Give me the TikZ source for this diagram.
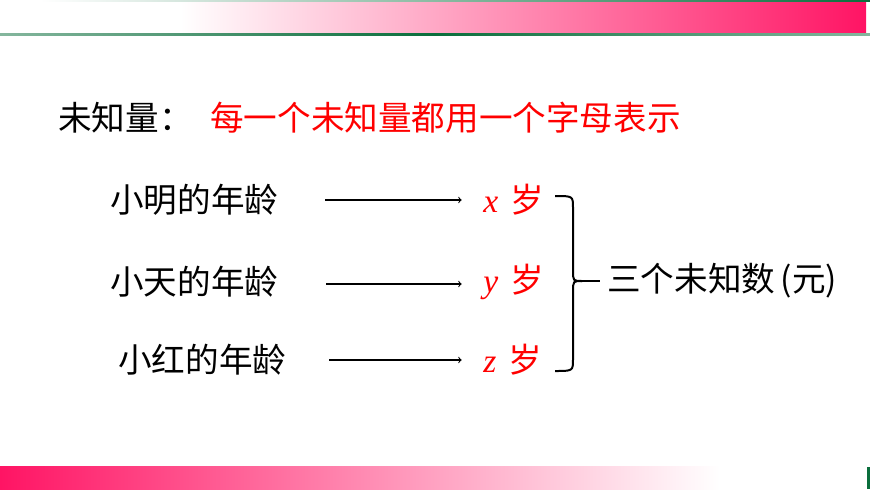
\documentclass[tikz,border=0pt]{standalone}
\usepackage{fontspec}
\newfontfamily\cjk{Noto Sans CJK SC}
\newfontfamily\lat{Liberation Serif}
\usetikzlibrary{positioning}
\definecolor{barpink}{RGB}{255,20,100}
\definecolor{bargreen}{RGB}{10,110,60}
\definecolor{keyred}{RGB}{255,0,0}

\begin{document}
\begin{tikzpicture}[x=0.75pt, y=-0.75pt,
    txt/.style={font=\cjk\fontsize{25.2}{30}\selectfont, inner sep=0pt, anchor=west},
    var/.style={txt, text=keyred},
    conn/.style={->, line width=0.8pt, shorten >=16pt}]
    \useasboundingbox (0,0) rectangle (870,489);

    % franjas de arriba y de abajo
    \shade[left color=white, right color=barpink] (180,2) rectangle (866,33);
    \shade[left color=white, right color=bargreen] (40,0) rectangle (870,1.5);
    \shade[left color=bargreen!50, right color=bargreen!50, middle color=bargreen] (0,33) rectangle (870,35);
    \shade[left color=barpink, right color=white] (0,466) rectangle (720,489);
    \fill[bargreen] (867,467) rectangle (870,489);

    % título
    \node[txt] (title) at (58,118) {未知量：};
    \node[var] (rule) at (210,118) {每一个未知量都用一个字母表示};

    % edades
    \node[txt] (ming) at (110,200) {小明的年龄};
    \node[txt] (tian) at (110,282) {小天的年龄};
    \node[txt] (hong) at (118,360) {小红的年龄};

    \node[var] (vx) at (483,200) {{\lat\itshape x}\hspace{9pt}岁};
    \node[var] (vy) at (483,282) {{\lat\itshape y}\hspace{9pt}岁};
    \node[var] (vz) at (483,360) {{\lat\itshape z}\hspace{9pt}岁};

    % flechas
    \coordinate (sx) at (325,200);
    \coordinate (sy) at (326,284);
    \coordinate (sz) at (329,360);
    \draw[conn] (sx) -- (sx -| vx.west);
    \draw[conn] (sy) -- (sy -| vy.west);
    \draw[conn] (sz) -- (sz -| vz.west);

    % llave
    \node[txt] (sum) at (607,281) {三个未知数\,(元)};
    \coordinate (tip) at (582,281);
    \draw[line width=1.5pt] (555,196) .. controls (573,196) .. (573,208) -- (573,270)
        .. controls (573,281) .. (tip);
    \draw[line width=1.5pt, shorten >=5pt] (tip) -- (sum.west);
    \draw[line width=1.5pt] (tip) .. controls (573,281) .. (573,292) -- (573,359)
        .. controls (573,371) .. (555,371);
\end{tikzpicture}
\end{document}
